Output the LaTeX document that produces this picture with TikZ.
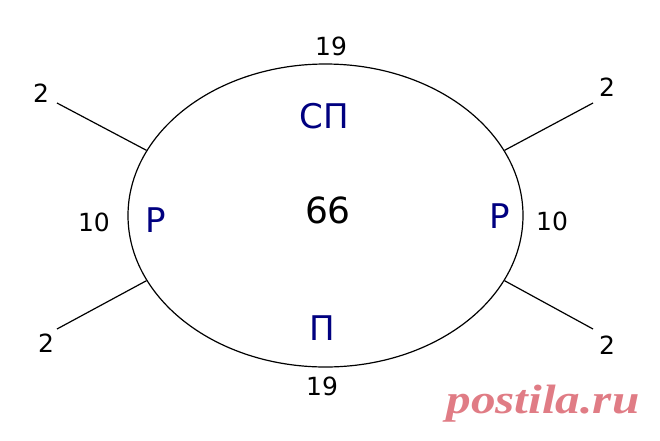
\documentclass[tikz,border=0pt]{standalone}
\usepackage{fontspec}
\setmainfont{DejaVu Sans}
\newfontfamily\markfont{Liberation Serif}
\usepackage{xcolor}
\usepackage{tikz}
\usetikzlibrary{shapes.geometric}
\definecolor{zonecol}{RGB}{0,0,128}
\definecolor{markcol}{RGB}{224,124,133}

\begin{document}
\begin{tikzpicture}[x=1pt, y=-1pt,
    num/.style={inner sep=0pt, font=\fontsize{25}{25}\selectfont},
    zone/.style={inner sep=0pt, text=zonecol, font=\fontsize{34}{34}\selectfont},
    arm/.style={line width=1.2pt}]
        \useasboundingbox (0,0) rectangle (660,440);
        % the oval and its total
        \node[ellipse, draw, line width=1.2pt, minimum width=395pt, minimum height=303pt, inner sep=0pt] (O) at (325.5,215.5) {};
        \node[inner sep=0pt, font=\fontsize{36}{36}\selectfont] (T) at (328,210) {66};
        % zones inside
        \node[zone] (SP) at (324,116) {СП};
        \node[zone] (P) at (322,328) {П};
        \node[zone] (RL) at (156,220) {Р};
        \node[zone] (RR) at (500,216) {Р};
        % numbers outside
        \node[num] (NT) at (331,46) {19};
        \node[num] (NB) at (322,386) {19};
        \node[num] (NL) at (94,222) {10};
        \node[num] (NR) at (552,221) {10};
        % arms
        \coordinate (A1) at (57,103);
        \coordinate (A2) at (57,329);
        \coordinate (A3) at (593,103);
        \coordinate (A4) at (593,329);
        \draw[arm] (O.160) -- (A1);
        \draw[arm] (O.200) -- (A2);
        \draw[arm] (O.20) -- (A3);
        \draw[arm] (O.340) -- (A4);
        \node[num] (N1) at (41,93) {2};
        \node[num] (N2) at (46,343) {2};
        \node[num] (N3) at (607,87) {2};
        \node[num] (N4) at (607,345) {2};
        % watermark
        \node[inner sep=0pt, anchor=base, xscale=1.2, text=markcol, font=\markfont\bfseries\itshape\fontsize{41}{41}\selectfont] (W) at (543,413) {postila.ru};
\end{tikzpicture}
\end{document}
